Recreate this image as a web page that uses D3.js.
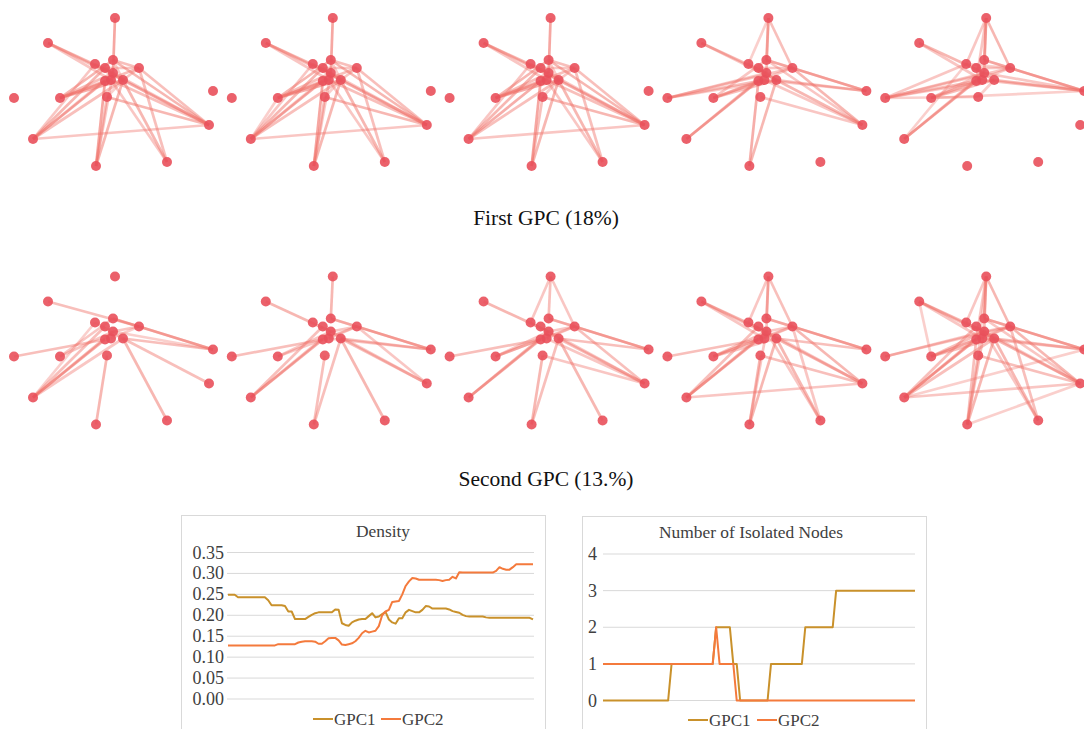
<!DOCTYPE html>
<html>
<head>
<meta charset="utf-8">
<script src="https://cdn.jsdelivr.net/npm/d3@7"></script>
<style>
  body { margin: 0; background: #fff; }
  text { font-family: "Liberation Serif", "Times New Roman", serif; fill: #333; }
</style>
</head>
<body>
<div id="chart"></div>
<script>
// node layout (units relative to each small panel)
var nodeIds = ["A","B","C","D","E","F","G","H","h","I","J","K","L","M","N","O","P","Q"];
var nodeX   = [115, 48, 95,113,105,139,113,105,111,123,107, 60, 14, 33,209, 96,167,213];
var nodeY   = [ 18, 43, 64, 60, 68, 68, 73, 81, 80, 80, 97, 98, 98,139,125,166,162, 91];

// edges for each panel: "source-target:weight"
var gpc1Edges = [
  ["A-G:.55","B-G:.45","B-I:.4","B-h:.35","K-D:.45","K-F:.4","K-h:.55","K-I:.5","K-G:.4","M-C:.35","M-E:.45","M-H:.5","M-I:.4","M-N:.35","M-G:.3","N-D:.45","N-F:.4","N-I:.5","N-h:.4","N-J:.45","N-G:.35","O-H:.55","O-J:.4","O-I:.45","O-G:.35","P-F:.4","P-I:.45","P-h:.35","F-D:.4","F-E:.35","F-I:.35","C-I:.3","D-I:.3","E-I:.3","J-I:.3"],
  ["A-G:.55","B-G:.45","B-I:.4","B-h:.35","K-D:.45","K-F:.4","K-h:.55","K-I:.5","K-G:.4","M-C:.35","M-E:.45","M-H:.5","M-I:.4","M-N:.35","M-G:.3","K-M:.3","N-D:.45","N-F:.4","N-I:.5","N-h:.4","N-J:.45","N-G:.35","O-H:.55","O-J:.4","O-I:.45","O-G:.35","P-F:.4","P-I:.45","P-h:.35","F-D:.4","F-E:.35","F-I:.35","C-I:.3","D-I:.3","E-I:.3","J-I:.3"],
  ["A-G:.55","B-G:.45","B-I:.4","B-h:.35","K-D:.45","K-F:.4","K-h:.55","K-I:.5","K-G:.4","M-C:.35","M-E:.45","M-H:.5","M-I:.4","M-N:.35","N-D:.45","N-F:.4","N-I:.5","N-h:.4","N-J:.45","N-G:.35","O-H:.55","O-J:.4","O-I:.45","P-F:.4","P-I:.45","P-h:.35","F-D:.4","F-E:.35","F-I:.35","C-I:.3","D-I:.3","J-I:.3"],
  ["A-D:.45","A-G:.4","A-F:.4","A-C:.3","B-G:.45","B-I:.35","L-H:.4","L-G:.35","L-F:.35","L-I:.3","K-D:.35","K-F:.35","K-h:.45","K-I:.4","M-H:.5","M-G:.4","O-H:.5","O-I:.45","N-F:.45","N-I:.45","N-J:.35","N-h:.35","N-D:.35","Q-F:.45","Q-D:.35","Q-I:.4","Q-h:.35","F-D:.35","F-E:.35","C-I:.3","E-I:.3"],
  ["A-D:.5","A-F:.45","A-G:.4","A-C:.35","A-H:.35","B-G:.45","B-h:.35","L-C:.35","L-G:.35","L-F:.35","L-H:.4","L-I:.35","L-J:.3","K-G:.35","K-F:.35","K-I:.4","K-h:.3","K-Q:.3","M-H:.5","M-G:.4","M-C:.3","Q-F:.5","Q-I:.45","Q-h:.4","Q-G:.35","Q-D:.35","F-D:.35","F-E:.35","F-C:.3","C-I:.3","J-I:.3"]
];
var gpc2Edges = [
  ["B-F:.4","L-H:.4","K-D:.35","K-G:.35","M-H:.5","M-G:.45","M-E:.4","M-I:.35","M-C:.3","O-J:.45","P-I:.45","N-I:.4","Q-F:.45","Q-D:.4","Q-I:.4","Q-G:.3","F-G:.35","F-h:.3","C-I:.3","D-F:.3"],
  ["A-D:.45","B-G:.45","L-H:.4","K-F:.35","K-G:.35","M-H:.5","M-E:.4","M-G:.4","O-J:.4","O-I:.4","P-I:.45","N-I:.4","N-G:.35","N-F:.35","Q-F:.45","Q-D:.4","Q-I:.4","Q-h:.35","F-G:.35","F-h:.3","D-F:.3"],
  ["A-D:.4","A-C:.35","A-F:.35","B-G:.45","L-H:.4","K-F:.35","K-G:.35","K-H:.35","M-H:.5","M-G:.45","O-J:.45","O-I:.4","P-I:.45","N-F:.4","N-I:.4","N-G:.35","N-h:.35","N-J:.35","Q-F:.45","Q-D:.4","Q-I:.4","F-G:.35","F-h:.3","D-F:.3","C-I:.3"],
  ["A-D:.45","A-F:.4","A-C:.35","A-G:.35","B-G:.45","B-h:.35","B-I:.35","L-H:.4","K-F:.35","K-G:.4","K-H:.4","K-I:.35","M-H:.5","M-G:.45","M-E:.4","M-N:.35","O-J:.45","O-I:.45","O-G:.35","P-F:.35","P-I:.45","P-G:.35","N-F:.45","N-I:.45","N-J:.4","N-G:.35","Q-F:.45","Q-D:.4","Q-I:.4","F-G:.35","F-h:.3","D-F:.3","C-I:.3"],
  ["A-D:.5","A-F:.45","A-G:.4","A-C:.35","A-H:.35","A-J:.3","B-G:.45","B-I:.4","B-K:.3","B-h:.35","L-G:.35","L-F:.35","K-F:.35","K-G:.4","K-I:.4","K-H:.35","M-H:.55","M-G:.45","M-N:.35","M-I:.4","M-E:.4","M-Q:.3","O-J:.45","O-I:.45","O-G:.4","O-N:.3","O-H:.4","P-F:.4","P-I:.45","P-G:.35","N-F:.45","N-I:.45","N-J:.4","N-G:.35","N-D:.35","Q-F:.45","Q-D:.4","Q-I:.4","Q-h:.35","F-G:.35","F-h:.3","D-F:.35","C-I:.3","E-I:.3"]
];
var rowTitles = ["First GPC (18%)", "Second GPC (13.%)"];

// line chart data
var densityGPC1 = [.249,.249,.249,.243,.243,.243,.243,.243,.243,.243,.243,.243,.236,.224,.224,.224,.224,.222,.209,.209,
  .191,.191,.191,.191,.196,.201,.205,.207,.207,.207,.207,.207,.214,.213,.181,.177,.175,.183,.187,.190,
  .191,.191,.198,.205,.195,.197,.203,.208,.190,.183,.180,.193,.193,.207,.213,.210,.207,.207,.213,.222,
  .221,.216,.216,.216,.216,.216,.214,.210,.208,.206,.201,.198,.197,.197,.197,.197,.197,.195,.194,.194,
  .194,.194,.194,.194,.194,.194,.194,.194,.194,.194,.194,.190];
var densityGPC2 = [.128,.128,.128,.128,.128,.128,.128,.128,.128,.128,.128,.128,.128,.128,.128,.131,.131,.131,.131,.131,
  .131,.135,.137,.138,.138,.138,.137,.132,.132,.138,.145,.146,.146,.140,.130,.129,.131,.133,.138,.146,
  .157,.163,.159,.161,.163,.174,.200,.209,.213,.232,.233,.234,.250,.270,.281,.289,.288,.285,.285,.285,
  .285,.285,.285,.284,.282,.284,.285,.292,.288,.303,.302,.302,.302,.302,.302,.302,.302,.302,.302,.302,
  .306,.315,.311,.309,.309,.315,.322,.322,.322,.322,.322,.322];
var densityTicks = [0, 0.05, 0.10, 0.15, 0.20, 0.25, 0.30, 0.35];

var isolatedGPC1 = [0,0,0,0,0,0,0,0,0,0,0,0,0,0,0,0,0,0,0,0,
  1,1,1,1,1,1,1,1,1,1,1,1,1,2,2,2,2,2,1,1,
  0,0,0,0,0,0,0,0,0,1,1,1,1,1,1,1,1,1,1,2,
  2,2,2,2,2,2,2,2,3,3,3,3,3,3,3,3,3,3,3,3,
  3,3,3,3,3,3,3,3,3,3,3,3];
var isolatedGPC2 = [1,1,1,1,1,1,1,1,1,1,1,1,1,1,1,1,1,1,1,1,
  1,1,1,1,1,1,1,1,1,1,1,1,1,2,1,1,1,1,1,0,
  0,0,0,0,0,0,0,0,0,0,0,0,0,0,0,0,0,0,0,0,
  0,0,0,0,0,0,0,0,0,0,0,0,0,0,0,0,0,0,0,0,
  0,0,0,0,0,0,0,0,0,0,0,0];
var isolatedTicks = [0, 1, 2, 3, 4];
var seriesNames = ["GPC1", "GPC2"];
var seriesColors = ["#c9912b", "#f47a3c"];

var svg = d3.select("#chart").append("svg")
    .attr("width", 1084)
    .attr("height", 729);

svg.append("rect").attr("width", 1084).attr("height", 729).attr("fill", "#fff");

// ---- network panels ----
var panelStep = 217.8;
var rowTop = [0, 258.5];

function drawPanel(edgeList, col, row) {
    var x = d3.scaleLinear().domain([0, 220]).range([col * panelStep, col * panelStep + 220]);
    var y = d3.scaleLinear().domain([0, 180]).range([rowTop[row], rowTop[row] + 180]);
    var g = svg.append("g");

    var links = edgeList.map(function(s) {
        var parts = s.split(":");
        var ends = parts[0].split("-");
        return { a: nodeIds.indexOf(ends[0]), b: nodeIds.indexOf(ends[1]), w: +parts[1] };
    });

    g.selectAll("line")
        .data(links)
        .enter()
        .append("line")
        .attr("x1", function(d) { return x(nodeX[d.a]); })
        .attr("y1", function(d) { return y(nodeY[d.a]); })
        .attr("x2", function(d) { return x(nodeX[d.b]); })
        .attr("y2", function(d) { return y(nodeY[d.b]); })
        .attr("stroke", "#f0736b")
        .attr("stroke-width", 2.7)
        .attr("stroke-opacity", function(d) { return d.w * 1.15; });

    g.selectAll("circle")
        .data(nodeIds)
        .enter()
        .append("circle")
        .attr("cx", function(d, i) { return x(nodeX[i]); })
        .attr("cy", function(d, i) { return y(nodeY[i]); })
        .attr("r", 5)
        .attr("fill", "#e9505b")
        .attr("fill-opacity", 0.9);
}

gpc1Edges.forEach(function(e, i) { drawPanel(e, i, 0); });
gpc2Edges.forEach(function(e, i) { drawPanel(e, i, 1); });

svg.selectAll("text.rowtitle")
    .data(rowTitles)
    .enter()
    .append("text")
    .attr("class", "rowtitle")
    .attr("x", 546)
    .attr("y", function(d, i) { return i == 0 ? 225 : 486; })
    .attr("text-anchor", "middle")
    .attr("font-size", "21.5px")
    .style("fill", "#111")
    .text(function(d) { return d; });

// ---- line charts ----
function lineChart(opts) {
    var g = svg.append("g");
    g.append("rect")
        .attr("x", opts.box[0]).attr("y", opts.box[1])
        .attr("width", opts.box[2]).attr("height", opts.box[3])
        .attr("fill", "#fff").attr("stroke", "#d9d9d9").attr("stroke-width", 1);

    g.append("text")
        .attr("x", opts.titleX)
        .attr("y", opts.box[1] + 21)
        .attr("text-anchor", "middle")
        .attr("font-size", "17.4px")
        .style("fill", "#404040")
        .text(opts.title);

    var x = d3.scaleLinear().domain([0, opts.series[0].length - 1]).range(opts.xRange);
    var y = d3.scaleLinear().domain(opts.yDomain).range(opts.yRange);

    g.selectAll("line.grid")
        .data(opts.ticks)
        .enter()
        .append("line")
        .attr("class", "grid")
        .attr("x1", opts.gridX[0]).attr("x2", opts.gridX[1])
        .attr("y1", function(d) { return y(d); })
        .attr("y2", function(d) { return y(d); })
        .attr("stroke", "#d9d9d9").attr("stroke-width", 1);

    g.selectAll("text.tick")
        .data(opts.ticks)
        .enter()
        .append("text")
        .attr("class", "tick")
        .attr("x", opts.labelX)
        .attr("y", function(d) { return y(d) + 6; })
        .attr("text-anchor", "end")
        .attr("font-size", "18px")
        .style("fill", "#404040")
        .text(function(d) { return opts.fmt(d); });

    var line = d3.line()
        .x(function(d, i) { return x(i); })
        .y(function(d) { return y(d); });

    opts.series.forEach(function(s, k) {
        g.append("path")
            .datum(s)
            .attr("d", line)
            .attr("fill", "none")
            .attr("stroke", seriesColors[k])
            .attr("stroke-width", 2)
            .attr("stroke-linejoin", "round");
    });

    // legend
    seriesNames.forEach(function(name, k) {
        var lx = opts.legendX[k];
        g.append("line")
            .attr("x1", lx).attr("x2", lx + 20)
            .attr("y1", opts.legendY).attr("y2", opts.legendY)
            .attr("stroke", seriesColors[k]).attr("stroke-width", 2);
        g.append("text")
            .attr("x", lx + 21)
            .attr("y", opts.legendY + 6)
            .attr("font-size", "17px")
            .style("fill", "#404040")
            .text(name);
    });
}

lineChart({
    box: [181.5, 515.5, 364, 230],
    title: "Density",
    titleX: 383,
    series: [densityGPC1, densityGPC2],
    xRange: [228, 533],
    yDomain: [0, 0.35],
    yRange: [699, 552.5],
    gridX: [227, 534],
    ticks: densityTicks,
    labelX: 224,
    fmt: d3.format(".2f"),
    legendX: [313, 381],
    legendY: 719
});

lineChart({
    box: [582.5, 516.5, 344, 230],
    title: "Number of Isolated Nodes",
    titleX: 751,
    series: [isolatedGPC1, isolatedGPC2],
    xRange: [603, 915],
    yDomain: [0, 4],
    yRange: [700.5, 554],
    gridX: [603, 915],
    ticks: isolatedTicks,
    labelX: 597,
    fmt: d3.format("d"),
    legendX: [688, 757],
    legendY: 720
});
</script>
</body>
</html>
